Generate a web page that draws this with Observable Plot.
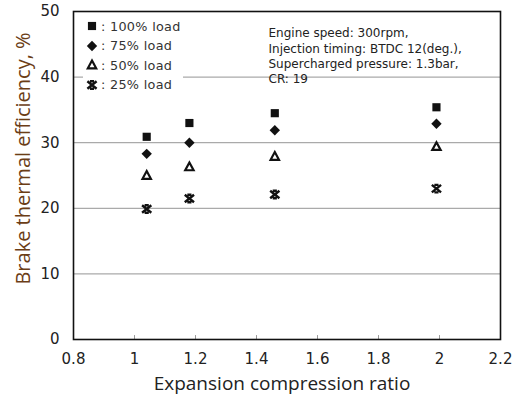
<!DOCTYPE html>
<html><head><meta charset="utf-8">
<script src="https://cdn.jsdelivr.net/npm/d3@7"></script>
<script src="https://cdn.jsdelivr.net/npm/@observablehq/plot@0.6"></script>
<style>
body{margin:0;background:#fff;}
#wrap{position:relative;width:521px;height:403px;}
#legend{position:absolute;left:83px;top:15px;width:100px;height:82px;background:#fff;font-family:"DejaVu Sans",sans-serif;font-size:12.8px;letter-spacing:0.3px;color:#333;}
#legend .row{position:absolute;left:0;height:16px;display:flex;align-items:center;white-space:nowrap;}
#legend svg{display:block;}
</style>
</head><body>
<div id="wrap"><div id="legend"></div></div>
<script>
const ratios = [1.04, 1.18, 1.46, 1.99];
const loads = ["100% load", "75% load", "50% load", "25% load"];
const eff100 = [30.9, 33.0, 34.5, 35.4];
const eff75 = [28.3, 30.0, 31.9, 32.9];
const eff50 = [25.0, 26.3, 27.9, 29.4];
const eff25 = [19.9, 21.5, 22.1, 23.0];
const xTicks = [0.8, 1, 1.2, 1.4, 1.6, 1.8, 2, 2.2];
const yTicks = [0, 10, 20, 30, 40, 50];
const gridTicks = [10, 20, 30, 40];
const notes = ["Engine speed: 300rpm,", "Injection timing: BTDC 12(deg.),", "Supercharged pressure: 1.3bar,", "CR: 19"];

const seriesVals = [eff100, eff75, eff50, eff25];

// custom symbols
const rhombus = {draw(ctx, size) { const h = Math.sqrt(size / Math.PI); ctx.moveTo(0, -h); ctx.lineTo(h, 0); ctx.lineTo(0, h); ctx.lineTo(-h, 0); ctx.closePath(); }};
const starX = {draw(ctx, size) { const h = Math.sqrt(size / Math.PI); const w = h * 1.05; const v = h * 0.85;
  ctx.moveTo(-w, -v); ctx.lineTo(w, v); ctx.moveTo(w, -v); ctx.lineTo(-w, v);
  ctx.moveTo(-w * 0.45, -v); ctx.lineTo(w * 0.45, -v); ctx.moveTo(-w * 0.45, v); ctx.lineTo(w * 0.45, v); }};
const openTri = {draw(ctx, size) { const h = Math.sqrt(size / Math.PI); ctx.moveTo(0, -h); ctx.lineTo(h * 0.95, h * 0.75); ctx.lineTo(-h * 0.95, h * 0.75); ctx.closePath(); }};

const symbols = [d3.symbolSquare, rhombus, openTri, starX];
const filled = [true, true, false, false];
const radii = [4.6, 5.2, 4.4, 4.4];
const widths = [0, 0, 2.2, 2.4];

const rows = (vals) => ratios.map((r, i) => ({x: r, y: vals[i]}));

const dotMarks = seriesVals.map((vals, k) => Plot.dot(rows(vals), {
  x: "x", y: "y", symbol: symbols[k], r: radii[k],
  fill: filled[k] ? "#111" : "none",
  stroke: filled[k] ? "none" : "#111",
  strokeWidth: widths[k]
}));

const chart = Plot.plot({
  width: 521, height: 403,
  marginLeft: 73, marginRight: 21, marginTop: 11, marginBottom: 64,
  style: {fontFamily: "DejaVu Sans, sans-serif", background: "#fff"},
  x: {type: "linear", domain: [0.8, 2.2], ticks: xTicks, label: null},
  y: {type: "linear", domain: [0, 50], ticks: yTicks, label: null},
  marks: [
    Plot.ruleY(gridTicks, {stroke: "#aaaaaa", strokeWidth: 1.2}),
    Plot.ruleX(xTicks.slice(1, -1), {y1: 0, y2: 0.6, stroke: "#999", strokeWidth: 1}),
    Plot.axisX({ticks: xTicks, tickSize: 0, tickPadding: 14, fontSize: 15, fill: "#222", tickFormat: d => String(d), style: {letterSpacing: "1.5px"}}),
    Plot.axisY({ticks: yTicks, tickSize: 0, tickPadding: 14, fontSize: 15, fill: "#222", tickFormat: d => String(d)}),
    Plot.text(["Expansion compression ratio"], {frameAnchor: "bottom", dx: -5, dy: 50, fontSize: 19, fill: "#222", fontFamily: "Open Sans, sans-serif"}),
    Plot.text(["Brake thermal efficiency, %"], {frameAnchor: "left", textAnchor: "middle", dx: -50, dy: -17, rotate: -90, fontSize: 20, fill: "#6b3d16", fontFamily: "Open Sans, sans-serif"}),
    Plot.text([notes.join("\n")], {frameAnchor: "top-left", dx: 195, dy: 15, textAnchor: "start", lineAnchor: "top", lineHeight: 1.28, fontSize: 12, fill: "#222", style: {letterSpacing: "0.7px"}}),
    ...dotMarks,
    Plot.frame({stroke: "#111", strokeWidth: 1.6})
  ]
});
document.getElementById("wrap").prepend(chart);
chart.style.position = "absolute"; chart.style.left = "0"; chart.style.top = "0";

// legend overlay
const legend = d3.select("#legend");
loads.forEach((name, k) => {
  const row = legend.append("div").attr("class", "row").style("top", (3 + k * 19.6) + "px");
  const svg = row.append("svg").attr("width", 18).attr("height", 16);
  svg.append("path")
    .attr("transform", "translate(9,8)")
    .attr("d", d3.symbol(symbols[k], Math.PI * radii[k] * radii[k])())
    .attr("fill", filled[k] ? "#111" : "none")
    .attr("stroke", filled[k] ? "none" : "#111")
    .attr("stroke-width", widths[k]);
  row.append("span").text(": " + name);
});
</script>
</body></html>
